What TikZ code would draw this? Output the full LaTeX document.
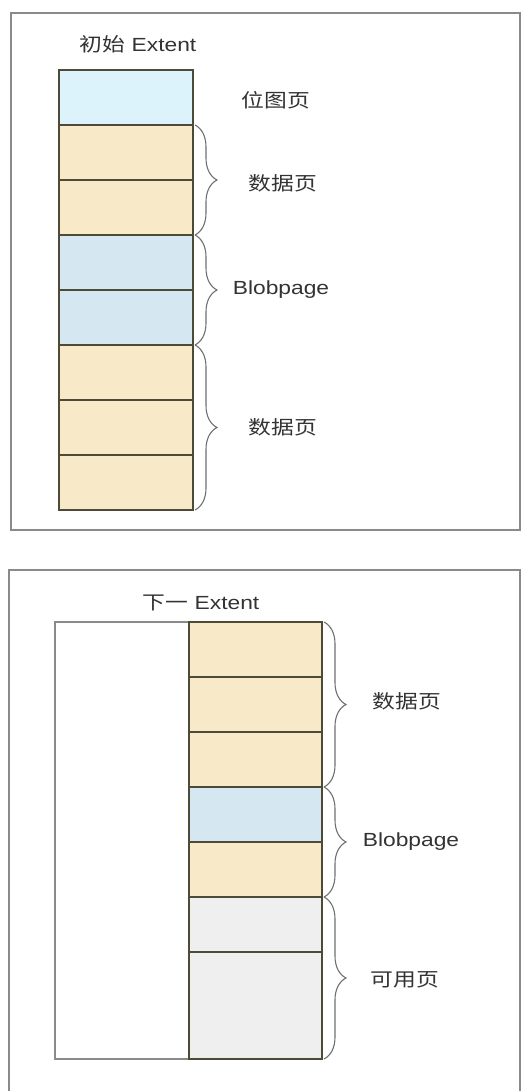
\documentclass[tikz,border=0pt]{standalone}
\usepackage{fontspec}
\setmainfont{Liberation Sans}[FakeStretch=1.2]
\newfontfamily\cjk{Noto Sans CJK SC}[FakeStretch=1.2]
\usetikzlibrary{decorations.pathreplacing}
\definecolor{framegray}{HTML}{8A8A8A}
\definecolor{rowline}{HTML}{4D4A38}
\definecolor{bmpblue}{HTML}{DDF3FB}
\definecolor{blobblue}{HTML}{D5E8F2}
\definecolor{datayellow}{HTML}{F8E9C9}
\definecolor{freegray}{HTML}{EFEFEF}
\definecolor{txt}{HTML}{333333}
\definecolor{bracegray}{HTML}{707070}
\tikzset{
  pagebox/.style={draw=rowline, line width=1.4pt, minimum width=134pt, minimum height=55pt,
    inner sep=0pt, outer sep=0pt, anchor=north west},
  panelframe/.style={draw=framegray, line width=2pt},
  lbl/.style={text=txt, font=\fontsize{19}{22}\selectfont, inner sep=0pt},
  pbrace/.style={draw=bracegray, line width=1.1pt, decorate,
    decoration={brace, amplitude=22pt, raise=2pt}}
}
\begin{document}
\begin{tikzpicture}[x=1pt, y=-1pt]
\useasboundingbox (0,0) rectangle (523,1091);
\clip (0,0) rectangle (523,1091);
\fill[white] (0,0) rectangle (523,1091);
% ---------- top panel ----------
\draw[panelframe] (11,13) rectangle (520,530);
\node[lbl] (t1) at (138,44) {{\cjk 初始} Extent};
\node[pagebox, fill=bmpblue]   (a1) at (59,70)  {};
\node[pagebox, fill=datayellow] (a2) at (59,125) {};
\node[pagebox, fill=datayellow] (a3) at (59,180) {};
\node[pagebox, fill=blobblue]   (a4) at (59,235) {};
\node[pagebox, fill=blobblue]   (a5) at (59,290) {};
\node[pagebox, fill=datayellow] (a6) at (59,345) {};
\node[pagebox, fill=datayellow] (a7) at (59,400) {};
\node[pagebox, fill=datayellow] (a8) at (59,455) {};
\draw[pbrace] (a2.north east) -- (a3.south east);
\draw[pbrace] (a4.north east) -- (a5.south east);
\draw[pbrace] (a6.north east) -- (a8.south east);
\node[lbl] (l1) at (276,100) {\cjk 位图页};
\node[lbl] (l2) at (283,183) {\cjk 数据页};
\node[lbl] (l3) at (281,290) {Blobpage};
\node[lbl] (l4) at (283,427) {\cjk 数据页};
% ---------- bottom panel ----------
\draw[panelframe] (9,570) rectangle (520,1110);
\node[lbl] (t2) at (201,603) {{\cjk 下一} Extent};
\draw[draw=framegray, line width=1.8pt, fill=white] (55,622) rectangle (322,1059);
\node[pagebox, minimum width=133pt, fill=datayellow] (b1) at (189,622) {};
\node[pagebox, minimum width=133pt, fill=datayellow] (b2) at (189,677) {};
\node[pagebox, minimum width=133pt, fill=datayellow] (b3) at (189,732) {};
\node[pagebox, minimum width=133pt, fill=blobblue]   (b4) at (189,787) {};
\node[pagebox, minimum width=133pt, fill=datayellow] (b5) at (189,842) {};
\node[pagebox, minimum width=133pt, fill=freegray]   (b6) at (189,897) {};
\node[pagebox, minimum width=133pt, minimum height=107pt, fill=freegray] (b7) at (189,952) {};
\draw[pbrace] (b1.north east) -- (b3.south east);
\draw[pbrace] (b4.north east) -- (b5.south east);
\draw[pbrace] (b6.north east) -- (b7.south east);
\node[lbl] (l5) at (407,701) {\cjk 数据页};
\node[lbl] (l6) at (411,842) {Blobpage};
\node[lbl] (l7) at (405,980) {\cjk 可用页};
\end{tikzpicture}
\end{document}
